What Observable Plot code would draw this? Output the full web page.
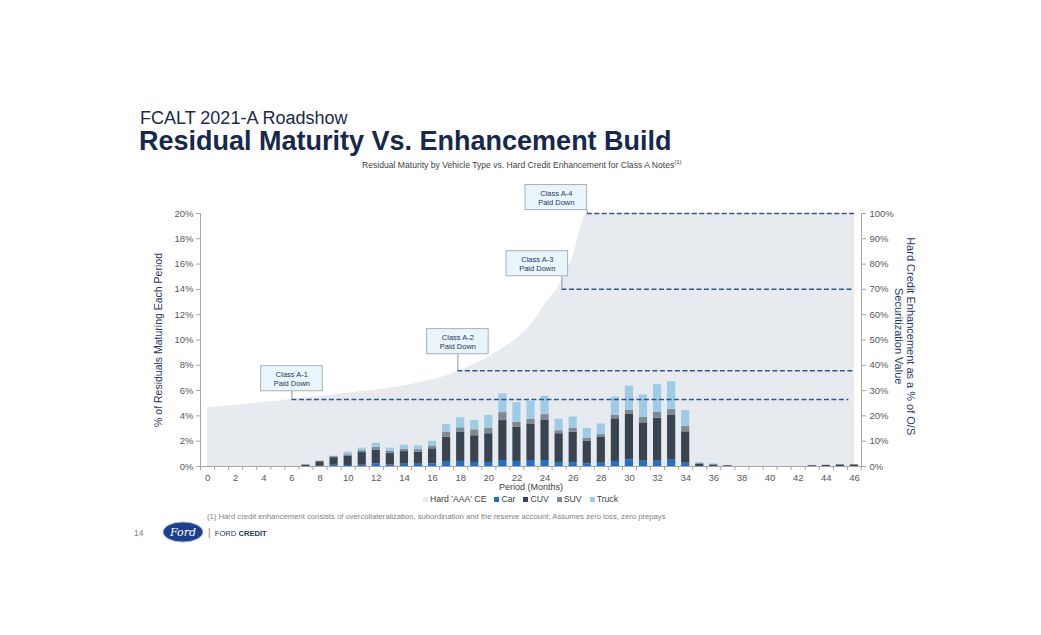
<!DOCTYPE html>
<html>
<head>
<meta charset="utf-8">
<script src="https://cdn.jsdelivr.net/npm/d3@7"></script>
<script src="https://cdn.jsdelivr.net/npm/@observablehq/plot@0.6"></script>
<style>
  body { margin: 0; background: #fff; font-family: "Liberation Sans", Arial, sans-serif; }
  #page { position: relative; width: 1041px; height: 635px; overflow: hidden; background: #fff; }
  .abs { position: absolute; white-space: nowrap; }
  #t1 { left: 140px; top: 108px; font-size: 18px; line-height: 20px; color: #1b2a4c; }
  #t2 { left: 139px; top: 126px; font-size: 27px; line-height: 30px; font-weight: bold; color: #17284d; }
  #sub { left: 362px; top: 159px; font-size: 8.6px; color: #3f3f3f; }
  #sub sup { font-size: 6px; }
  #chart { left: 0; top: 178px; }
  #legend { left: 423px; top: 494px; font-size: 8.7px; color: #404040; display: flex; gap: 8px; align-items: center; }
  #legend span.sw { display: inline-block; width: 5px; height: 5px; margin-right: 2px; vertical-align: 0px; }
  #foot { left: 207px; top: 512px; font-size: 7.7px; color: #7f7f7f; }
  #pg { left: 134px; top: 528px; font-size: 8.5px; color: #7f7f7f; }
  #fc { left: 208px; top: 527px; font-size: 7.6px; color: #1f3864; }
</style>
</head>
<body>
<div id="page">
  <div class="abs" id="t1">FCALT 2021-A Roadshow</div>
  <div class="abs" id="t2">Residual Maturity Vs. Enhancement Build</div>
  <div class="abs" id="sub">Residual Maturity by Vehicle Type vs. Hard Credit Enhancement for Class A Notes<sup>(1)</sup></div>
  <div class="abs" id="chart"></div>
  <div class="abs" id="legend"></div>
  <div class="abs" id="foot">(1) Hard credit enhancement consists of overcollateralization, subordination and the reserve account; Assumes zero loss, zero prepays</div>
  <div class="abs" id="pg">14</div>
  <svg class="abs" style="left:162px;top:521px" width="42" height="22">
    <ellipse cx="21" cy="11" rx="20" ry="10" fill="#1d3f8c" stroke="#9fb3d6" stroke-width="1"/>
    <text x="21" y="15" text-anchor="middle" font-family="DejaVu Serif, serif" font-style="italic" font-size="11" fill="#fff">Ford</text>
  </svg>
  <div class="abs" id="fc"><span style="color:#7f7f7f;font-size:10px">|</span>&nbsp;&nbsp;FORD <b>CREDIT</b></div>
</div>
<script>
// ---------- data ----------
const months = [0,1,2,3,4,5,6,7,8,9,10,11,12,13,14,15,16,17,18,19,20,21,22,23,24,25,26,27,28,29,30,31,32,33,34,35,36,37,38,39,40,41,42,43,44,45,46];
// % of residuals maturing each period (left axis)
const car   = [0,0,0,0,0,0,0,0,0.02,0.10,0.08,0.10,0.20,0.12,0.18,0.18,0.20,0.34,0.40,0.32,0.32,0.47,0.40,0.47,0.47,0.32,0.32,0.21,0.26,0.40,0.53,0.42,0.42,0.50,0.26,0,0,0,0,0,0,0,0,0,0,0,0];
const cuv   = [0,0,0,0,0,0,0,0.10,0.35,0.60,0.75,1.00,1.10,0.90,1.00,0.95,1.20,1.98,2.29,2.11,2.27,3.16,2.69,2.85,3.21,2.27,2.40,1.77,2.08,3.37,3.58,3.03,3.40,3.53,2.48,0.20,0.12,0.06,0,0,0,0,0,0.06,0.08,0.12,0.12];
const suv   = [0,0,0,0,0,0,0,0.03,0.05,0.08,0.10,0.15,0.22,0.18,0.18,0.20,0.22,0.40,0.37,0.47,0.45,0.63,0.40,0.40,0.42,0.24,0.29,0.24,0.18,0.26,0.32,0.42,0.45,0.47,0.42,0.02,0.03,0.02,0,0,0,0,0,0.02,0.02,0.04,0.04];
const truck = [0,0,0,0,0,0,0,0,0,0.03,0.20,0.20,0.32,0.25,0.32,0.30,0.38,0.60,0.79,0.74,1.00,1.48,1.55,1.45,1.45,0.90,0.90,0.79,0.84,1.45,1.92,1.79,2.19,2.21,1.26,0.08,0.06,0,0,0,0,0,0,0,0,0,0];
// Hard 'AAA' credit enhancement, % of O/S securitization value (right axis)
const hardCE = [23.2,23.7,24.2,24.8,25.3,25.9,26.6,27.2,27.8,28.4,29.0,29.6,30.2,31.0,31.9,33.0,34.3,35.9,38.0,40.5,43.3,46.7,50.6,56.0,64.0,71.5,83.5,100,100,100,100,100,100,100,100,100,100,100,100,100,100,100,100,100,100,100,100];

const vehicleTypes = ["Car","CUV","SUV","Truck"];
const legendLabels = ["Hard 'AAA' CE","Car","CUV","SUV","Truck"];

// Class paydown annotations
const classLabels = ["Class A-1\nPaid Down","Class A-2\nPaid Down","Class A-3\nPaid Down","Class A-4\nPaid Down"];
const classStart  = [6, 17.8, 25.2, 27];        // month where class is paid down
const classEnd    = [45.6, 46, 46, 46];
const classLevel  = [26.5, 37.8, 70.1, 100];    // CE level (right axis %)
const boxMonth    = [6.0, 17.8, 23.45, 24.8];   // callout box centre (month)
const boxLevel    = [34.7, 49.35, 80.15, 106.3];// callout box centre (right axis %)

// ---------- styles ----------
const colors = {"Hard 'AAA' CE":"#e7eaee", Car:"#2470c2", CUV:"#38444f", SUV:"#7f8992", Truck:"#9ecbe5"};
const R = 5; // right-axis % per left-axis %

const long = [];
months.forEach((m,i) => {
  const vals = [car[i], cuv[i], suv[i], truck[i]];
  vehicleTypes.forEach((t,j) => long.push({m, type: t, v: vals[j]}));
});
const ce = months.map((m,i) => ({m, ce: hardCE[i]}));
const ann = classLabels.map((l,i) => ({label:l, x1: classStart[i], x2: classEnd[i], lvl: classLevel[i], bx: boxMonth[i], by: boxLevel[i]}));

const BW = 2.19, BH = 0.99; // half box size in months / left %
const axisColor = "#a6a6a6";
const tickText = "#595959";

const plot = Plot.plot({
  width: 1041,
  height: 316,
  marginLeft: 200,
  marginRight: 180,
  marginTop: 35,
  marginBottom: 28,
  x: {domain: [-0.5, 46.5], axis: null},
  y: {domain: [0, 20], axis: null},
  color: {domain: vehicleTypes, range: vehicleTypes.map(t => colors[t])},
  style: {fontFamily: "'Liberation Sans', Arial, sans-serif", fontSize: "9.5px", color: tickText, background: "transparent", overflow: "visible"},
  marks: [
    Plot.areaY(ce, {x: "m", y1: 0, y2: d => d.ce / R, fill: colors["Hard 'AAA' CE"], curve: "monotone-x"}),
    Plot.rectY(long, {x1: d => d.m - 0.29, x2: d => d.m + 0.29, y: "v", fill: "type"}),
    // paydown levels
    Plot.ruleY(ann, {x1: "x1", x2: "x2", y: d => d.lvl / R, stroke: "#2f5597", strokeWidth: 1.5, strokeDasharray: "5,2.5"}),
    Plot.ruleX(ann, {x: "x1", y1: d => d.by / R - BH, y2: d => d.lvl / R, stroke: "#8c969f", strokeWidth: 1}),
    Plot.rect(ann, {x1: d => d.bx - BW, x2: d => d.bx + BW, y1: d => d.by / R - BH, y2: d => d.by / R + BH, fill: "#eaf4fb", stroke: "#a9b1b8", strokeWidth: 1}),
    Plot.text(ann, {x: "bx", y: d => d.by / R, text: "label", fill: "#1f3864", fontSize: 7.5, lineHeight: 1.25}),
    // axes
    Plot.ruleX([-0.5, 46.5], {y1: 0, y2: 20, stroke: axisColor}),
    Plot.ruleY([0], {x1: -0.5, x2: 46.5, stroke: axisColor}),
    Plot.axisY({anchor: "left", ticks: d3.range(0, 21, 2), tickFormat: d => d + "%", tickSize: 4, tickPadding: 3, stroke: axisColor, label: null}),
    Plot.axisY({anchor: "right", ticks: d3.range(0, 21, 2), tickFormat: d => (d * R) + "%", tickSize: 4, tickPadding: 4, stroke: axisColor, label: null}),
    Plot.axisX({ticks: d3.range(-0.5, 47, 1), tickFormat: () => "", tickSize: 4, stroke: axisColor, label: null}),
    Plot.axisX({ticks: months.filter(m => m % 2 === 0), tickFormat: d => d, tickSize: 0, tickPadding: 8, label: null}),
    Plot.text(["Period (Months)"], {x: 23, y: 0, dy: 21, text: d => d, fill: "#404040", fontSize: 9}),
    Plot.text(["% of Residuals Maturing Each Period"], {x: -0.5, y: 10, dx: -42, rotate: -90, text: d => d, fill: "#1f3864", fontSize: 10.5}),
    Plot.text(["Hard Credit Enhancement as a % of O/S"], {x: 46.5, y: 10.3, dx: 49, rotate: 90, text: d => d, fill: "#1f3864", fontSize: 11}),
    Plot.text(["Securitization Value"], {x: 46.5, y: 10.3, dx: 37, rotate: 90, text: d => d, fill: "#1f3864", fontSize: 11})
  ]
});
document.getElementById("chart").appendChild(plot);

const lg = document.getElementById("legend");
legendLabels.forEach(l => {
  const s = document.createElement("span");
  s.innerHTML = `<span class="sw" style="background:${colors[l]}"></span>${l}`;
  lg.appendChild(s);
});
</script>
</body>
</html>
